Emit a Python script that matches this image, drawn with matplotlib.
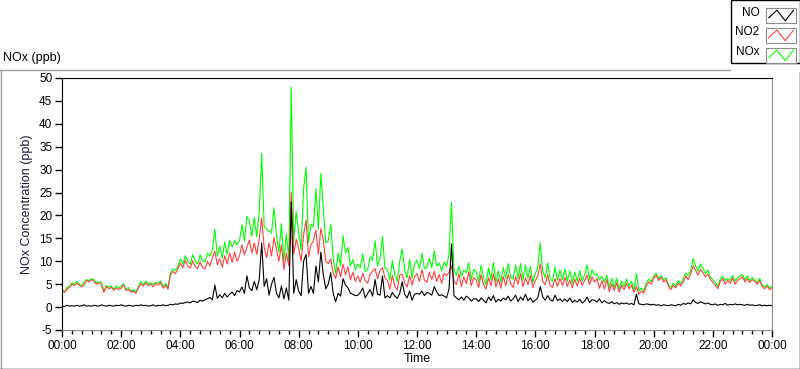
import numpy as np
import matplotlib
matplotlib.use("Agg")
import matplotlib.pyplot as plt
from matplotlib.ticker import MultipleLocator, FuncFormatter
from matplotlib.legend_handler import HandlerBase
from matplotlib.lines import Line2D
from matplotlib.patches import Rectangle

plt.rcParams['font.family'] = ['Liberation Sans', 'DejaVu Sans']
plt.rcParams['axes.unicode_minus'] = False

# muestras cada 5 minutos, 00:00 -> 24:00 (ppb)
no2 = [
    3.6, 3.2, 3.9, 4.3, 5.0, 4.7, 5.2, 4.8, 4.4, 4.9, 5.8, 5.5,          # 00
    6.0, 5.6, 5.0, 5.3, 4.9, 3.2, 4.5, 4.0, 4.3, 3.7, 4.2, 3.8,          # 01
    4.1, 4.8, 3.6, 3.9, 3.2, 3.5, 3.0, 4.2, 5.1, 4.6, 5.3, 4.7,          # 02
    5.0, 4.4, 5.2, 4.8, 5.4, 4.1, 4.8, 3.9, 7.0, 7.8, 7.3, 8.3,          # 03
    9.6, 8.6, 10.2, 9.0, 8.5, 10.1, 8.9, 8.4, 9.9, 8.7, 8.3, 10.0,       # 04
    9.0, 10.8, 12.2, 9.2, 10.6, 8.7, 11.2, 9.4, 11.8, 9.8, 12.0, 10.0,   # 05
    11.2, 13.6, 11.4, 13.0, 14.6, 11.8, 14.0, 11.5, 14.8, 19.5, 13.0, 10.8,  # 06
    14.0, 11.2, 15.2, 12.6, 10.0, 13.6, 8.2, 11.8, 9.0, 25.0, 11.5, 14.8,    # 07
    12.8, 10.0, 15.8, 19.0, 11.0, 13.6, 14.5, 16.8, 11.5, 17.2, 14.6, 10.0,  # 08
    9.5, 10.5, 7.5, 6.2, 8.8, 6.6, 9.4, 7.0, 8.8, 6.0, 7.6, 5.6,         # 09
    6.8, 5.4, 7.4, 5.8, 5.2, 7.2, 7.8, 8.4, 6.2, 8.0, 8.6, 6.4,          # 10
    5.8, 3.9, 6.9, 4.6, 3.7, 7.0, 7.2, 5.2, 4.4, 6.9, 4.8, 6.6,          # 11
    7.3, 5.6, 8.2, 5.9, 5.4, 7.6, 6.0, 7.8, 5.6, 7.1, 5.2, 7.4,          # 12
    6.8, 7.6, 9.0, 5.6, 4.9, 7.3, 4.5, 6.6, 5.1, 7.7, 4.7, 6.4,          # 13
    5.9, 4.3, 7.1, 4.9, 3.9, 6.4, 4.6, 7.3, 4.4, 6.2, 4.1, 6.7,          # 14
    4.7, 7.1, 5.1, 4.3, 6.6, 5.0, 7.3, 4.5, 6.4, 4.9, 6.9, 4.3,          # 15
    5.8, 6.8, 9.5, 5.6, 4.9, 7.1, 4.7, 4.3, 6.2, 4.5, 6.3, 4.7,          # 16
    6.5, 4.5, 5.9, 4.2, 6.1, 4.6, 6.3, 4.7, 5.8, 7.0, 4.9, 6.6,          # 17
    5.5, 6.2, 4.1, 5.8, 3.9, 6.0, 3.4, 5.1, 3.6, 5.3, 3.3, 4.8,          # 18
    3.8, 5.2, 4.0, 4.8, 3.2, 4.5, 2.8, 3.5, 3.0, 4.6, 5.5, 5.0,          # 19
    6.2, 7.0, 5.8, 6.5, 5.5, 6.0, 4.5, 3.8, 4.8, 4.2, 5.2, 4.6,          # 20
    5.5, 6.8, 6.0, 7.2, 9.0, 8.0, 7.0, 8.2, 7.5, 6.6, 7.2, 6.0,          # 21
    5.5, 4.8, 4.0, 5.6, 6.2, 5.0, 5.8, 5.2, 6.4, 5.0, 5.8, 6.2,          # 22
    6.6, 5.5, 6.2, 5.4, 6.0, 5.6, 5.0, 5.8, 4.5, 4.0, 4.6, 3.8,          # 23
    4.2,
]
no = [
    0.3, 0.1, 0.4, 0.2, 0.3, 0.2, 0.4, 0.2, 0.3, 0.5, 0.2, 0.3,          # 00
    0.2, 0.4, 0.3, 0.2, 0.5, 0.3, 0.2, 0.4, 0.3, 0.2, 0.4, 0.3,          # 01
    0.5, 0.3, 0.2, 0.4, 0.3, 0.2, 0.4, 0.3, 0.5, 0.3, 0.4, 0.2,          # 02
    0.3, 0.5, 0.2, 0.4, 0.3, 0.5, 0.3, 0.4, 0.6, 0.5, 0.7, 0.6,          # 03
    0.9, 0.8, 1.0, 1.1, 0.9, 1.3, 1.2, 1.0, 1.5, 1.3, 1.6, 1.8,          # 04
    2.1, 1.6, 4.8, 1.9, 2.7, 2.0, 3.0, 2.2, 2.8, 3.3, 2.5, 3.6,          # 05
    3.3, 4.4, 3.0, 6.8, 4.2, 3.6, 5.6, 3.8, 6.0, 14.0, 4.5, 6.2,         # 06
    2.6, 5.0, 6.5, 3.0, 2.0, 4.6, 1.8, 4.2, 1.5, 23.0, 3.0, 6.0,         # 07
    3.5, 2.5, 10.0, 11.5, 3.0, 4.5, 3.0, 9.0, 5.5, 12.0, 7.0, 4.0,       # 08
    5.0, 7.5, 3.0, 1.2, 3.0, 2.4, 6.2, 4.8, 4.2, 3.0, 2.8, 2.5,          # 09
    2.6, 3.2, 4.2, 2.0, 3.0, 3.8, 2.4, 6.0, 2.8, 2.6, 6.8, 2.0,          # 10
    2.5, 2.0, 3.2, 2.4, 1.9, 3.0, 5.5, 2.8, 2.0, 3.5, 1.5, 2.8,          # 11
    3.0, 2.8, 3.5, 2.5, 3.2, 3.0, 2.6, 4.5, 3.3, 2.5, 2.7, 2.4,          # 12
    2.0, 4.0, 13.8, 2.5, 2.0, 1.6, 2.2, 1.5, 2.4, 2.0, 1.3, 1.8,         # 13
    1.8, 1.2, 2.0, 1.5, 0.9, 2.2, 1.4, 2.5, 1.1, 1.7, 1.3, 2.0,          # 14
    1.6, 2.4, 1.3, 1.8, 2.6, 1.2, 2.2, 1.5, 2.8, 1.4, 2.0, 1.1,          # 15
    1.5, 2.0, 4.5, 2.2, 1.5, 2.5, 1.6, 1.3, 2.6, 1.4, 1.8, 1.2,          # 16
    1.8, 1.2, 2.0, 1.0, 1.5, 1.1, 1.7, 0.9, 1.3, 2.2, 1.0, 1.6,          # 17
    1.5, 1.1, 1.8, 0.9, 1.4, 1.0, 0.8, 1.2, 0.7, 1.0, 0.6, 0.9,          # 18
    0.7, 0.9, 0.6, 0.8, 0.5, 2.8, 0.7, 0.6, 0.5, 0.7, 0.6, 0.5,          # 19
    0.6, 0.4, 0.5, 0.3, 0.5, 0.4, 0.3, 0.5, 0.4, 0.3, 0.6, 0.4,          # 20
    0.8, 0.6, 0.9, 0.7, 1.6, 1.0, 0.8, 1.2, 0.9, 0.7, 0.9, 0.6,          # 21
    0.5, 0.7, 0.4, 0.6, 0.5, 0.8, 0.4, 0.6, 0.5, 0.7, 0.5, 0.6,          # 22
    0.5, 0.4, 0.6, 0.4, 0.5, 0.3, 0.4, 0.5, 0.3, 0.4, 0.3, 0.4,          # 23
    0.3,
]
horas = np.arange(len(no2)) * 5 / 60.0
nox = np.array(no) + np.array(no2)

colores = {'NO': 'black', 'NO2': '#ff4040', 'NOx': '#00ff00'}


class Zigzag(HandlerBase):
    # muestra de leyenda estilo LabVIEW: caja con linea en zigzag
    def create_artists(self, legend, orig_handle, xdescent, ydescent,
                       width, height, fontsize, trans):
        x0, y0 = -xdescent, -ydescent - 0.25 * height
        h = height * 1.0
        caja = Rectangle((x0, y0), width, h, facecolor='white',
                         edgecolor='#8c8c8c', lw=0.8, transform=trans)
        xs = x0 + width * np.array([0.08, 0.36, 0.64, 0.92])
        ys = y0 + h * np.array([0.35, 0.85, 0.15, 0.85])
        zz = Line2D(xs, ys, color=orig_handle.get_color(), lw=0.8,
                    transform=trans)
        return [caja, zz]


fig = plt.figure(figsize=(8, 3.69), dpi=100)
ax = fig.add_axes([62 / 800, 39 / 369, 710 / 800, 252 / 369])

l_nox, = ax.plot(horas, nox, color=colores['NOx'], lw=0.8)
l_no2, = ax.plot(horas, no2, color=colores['NO2'], lw=0.8)
l_no, = ax.plot(horas, no, color=colores['NO'], lw=0.8)

ax.set_xlim(0, 24)
ax.set_ylim(-5, 50)
ax.xaxis.set_major_locator(MultipleLocator(2))
ax.xaxis.set_minor_locator(MultipleLocator(1 / 3))
ax.xaxis.set_major_formatter(FuncFormatter(lambda v, p: f"{int(round(v)) % 24:02d}:00"))
ax.yaxis.set_major_locator(MultipleLocator(5))
ax.tick_params(axis='both', which='major', length=5, width=1, labelsize=8.5, pad=2)
ax.tick_params(axis='x', which='minor', length=3, width=1)
for lado in ['top', 'left']:
    ax.spines[lado].set_color('black')
for lado in ['right', 'bottom']:
    ax.spines[lado].set_color('#8c8c8c')
ax.set_xlabel('Time', fontsize=9, labelpad=1)
ax.set_ylabel('NOx Concentration (ppb)', fontsize=9, labelpad=4, color='#1a1a40')

fig.text(3 / 800, 1 - 58 / 369, 'NOx (ppb)', fontsize=9, va='center', ha='left')

# marco del panel
gris = '#a0a0a0'
fig.add_artist(Line2D([0, 730 / 800], [1 - 69.5 / 369] * 2, color=gris, lw=1))
fig.add_artist(Line2D([0.5 / 800] * 2, [0, 1 - 69.5 / 369], color=gris, lw=1))
fig.add_artist(Line2D([799.5 / 800] * 2, [0, 1 - 72 / 369], color='black', lw=1))
fig.add_artist(Line2D([0, 1], [0.5 / 369] * 2, color='black', lw=1))

leg = fig.legend([l_no, l_no2, l_nox], ['NO', 'NO2', 'NOx'],
                 loc='upper right', bbox_to_anchor=(1.0, 1.0),
                 bbox_transform=fig.transFigure, borderaxespad=0,
                 markerfirst=False, frameon=True, fancybox=False,
                 edgecolor='black', framealpha=1, fontsize=8.5,
                 handlelength=2.5, handleheight=1.6, labelspacing=0.4,
                 handletextpad=0.6, borderpad=0.35,
                 handler_map={Line2D: Zigzag()})
leg.get_frame().set_linewidth(1)

fig.savefig('out.png', dpi=100)
plt.close(fig)
